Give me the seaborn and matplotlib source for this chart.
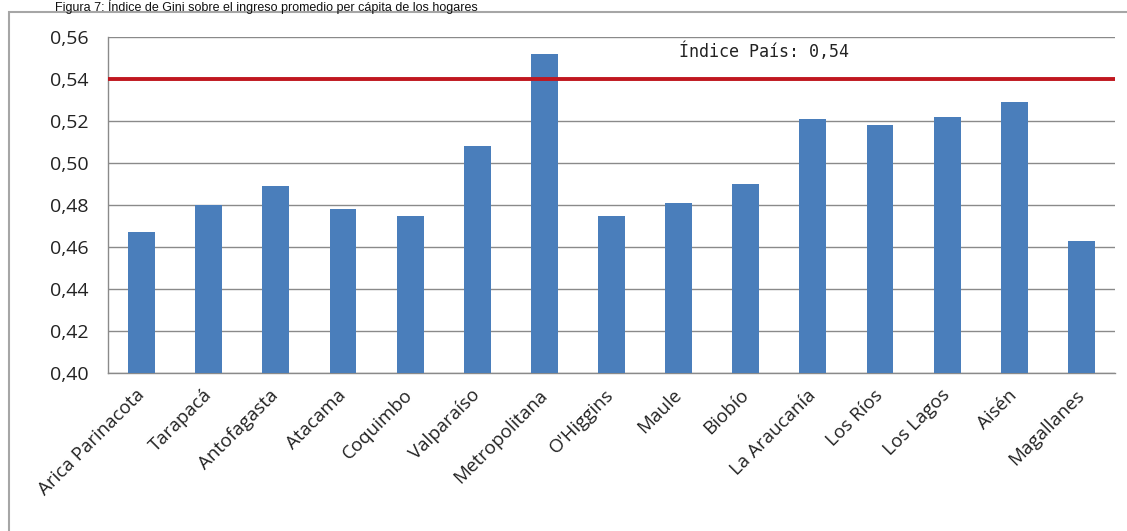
import matplotlib
matplotlib.use("Agg")
import matplotlib.pyplot as plt
import matplotlib.patches as patches
from matplotlib.ticker import FuncFormatter, FixedLocator
import seaborn as sns

# Gini por región
regiones = ["Arica Parinacota", "Tarapacá", "Antofagasta", "Atacama", "Coquimbo",
            "Valparaíso", "Metropolitana", "O'Higgins", "Maule", "Biobío",
            "La Araucanía", "Los Ríos", "Los Lagos", "Aisén", "Magallanes"]
gini = [0.467, 0.480, 0.489, 0.478, 0.475, 0.508, 0.552, 0.475, 0.481, 0.490,
        0.521, 0.518, 0.522, 0.529, 0.463]
indice_pais = 0.54
y_ticks = [0.40, 0.42, 0.44, 0.46, 0.48, 0.50, 0.52, 0.54, 0.56]

sns.set_style("white")
plt.rcParams["font.family"] = ["Open Sans", "DejaVu Sans"]

fig = plt.figure(figsize=(11.27, 5.31), dpi=100)
ax = fig.add_axes([108 / 1127, 1 - 373 / 531, (1115 - 108) / 1127, 336 / 531])

sns.barplot(x=regiones, y=gini, color="#4A7EBB", saturation=1, width=0.4, ax=ax,
            linewidth=0, zorder=3)

# linea del indice pais
ax.axhline(indice_pais, color="#C0171F", lw=2.8, zorder=4)
ax.text(8.0, 0.5505, "Índice País: 0,54", fontsize=12, family="DejaVu Sans Mono",
        color="#222222", va="baseline")

grid_col = "#8a8a8a"
ax.set_ylim(0.40, 0.56)
ax.set_xlim(-0.5, len(regiones) - 0.5)
ax.yaxis.set_major_locator(FixedLocator(y_ticks))
ax.yaxis.set_major_formatter(FuncFormatter(lambda v, p: f"{v:.2f}".replace(".", ",")))
ax.grid(axis="y", color=grid_col, lw=1, zorder=0)
ax.set_axisbelow(True)

ax.set_xticks(range(len(regiones)))
ax.set_xticklabels(regiones, rotation=45, ha="right", va="center", rotation_mode="anchor",
                   fontsize=13.5)
ax.set_xticks([i - 0.5 for i in range(len(regiones) + 1)], minor=True)
ax.tick_params(axis="x", which="major", length=0, pad=14, colors="#222222")
ax.tick_params(axis="x", which="minor", length=6, color=grid_col, width=1, direction="out")
ax.tick_params(axis="y", length=6, color=grid_col, width=1, direction="out", labelsize=14,
               labelcolor="#222222", pad=8)
ax.set_xlabel("")
ax.set_ylabel("")

for s in ["top", "right"]:
    ax.spines[s].set_visible(False)
for s in ["left", "bottom"]:
    ax.spines[s].set_color(grid_col)
    ax.spines[s].set_linewidth(1)

# marco del grafico
frame = patches.Rectangle((9 / 1127, -0.1), 1.2, 1 - 12 / 531 + 0.1, transform=fig.transFigure,
                          fill=False, ec="#a6a6a6", lw=1.5, clip_on=False)
fig.add_artist(frame)

fig.text(55 / 1127, 1.0,
         "Figura 7: Índice de Gini sobre el ingreso promedio per cápita de los hogares",
         fontsize=9, family=["Liberation Sans", "DejaVu Sans"], va="top", color="#111111")

fig.savefig("out.png", dpi=100)
